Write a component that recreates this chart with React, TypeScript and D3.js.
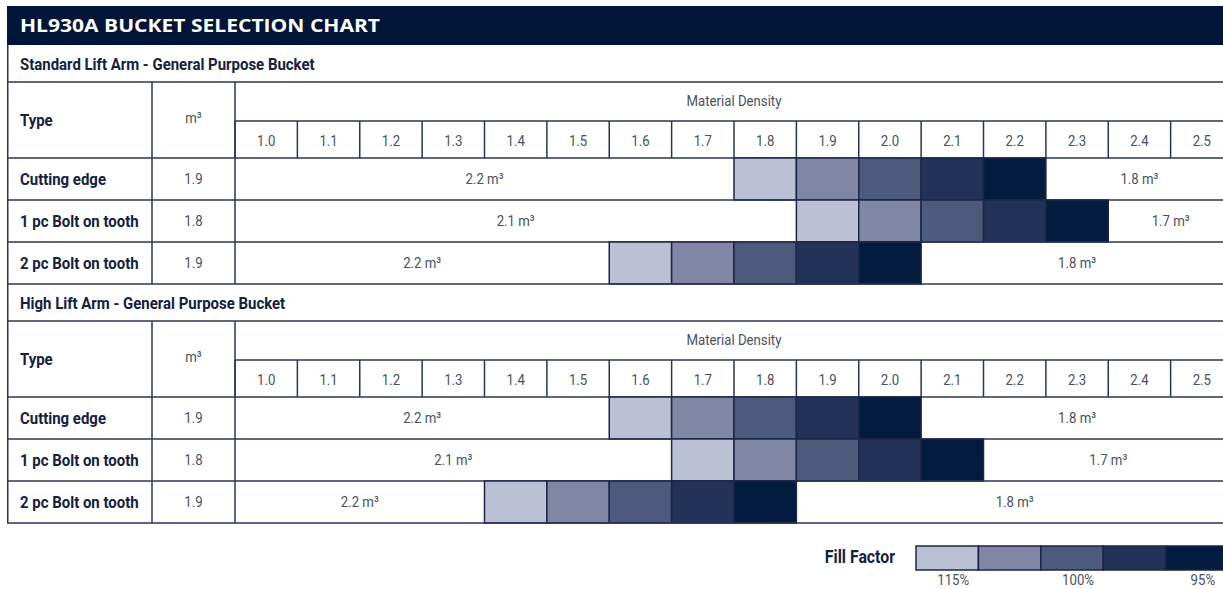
import React from 'react';
import * as d3 from 'd3';

// chart data
const chartTitle = 'HL930A BUCKET SELECTION CHART';
const densities = ['1.0', '1.1', '1.2', '1.3', '1.4', '1.5', '1.6', '1.7', '1.8', '1.9', '2.0', '2.1', '2.2', '2.3', '2.4', '2.5'];
const sectionTitles = ['Standard Lift Arm - General Purpose Bucket', 'High Lift Arm - General Purpose Bucket'];
const bucketTypes = ['Cutting edge', '1 pc Bolt on tooth', '2 pc Bolt on tooth'];
const bucketCapacity = [['1.9', '1.8', '1.9'], ['1.9', '1.8', '1.9']];
// density at which the 115% fill factor band starts
const fillStart = [['1.8', '1.9', '1.6'], ['1.6', '1.7', '1.4']];
const lightLabels = [['2.2 m³', '2.1 m³', '2.2 m³'], ['2.2 m³', '2.1 m³', '2.2 m³']];
const heavyLabels = [['1.8 m³', '1.7 m³', '1.8 m³'], ['1.8 m³', '1.7 m³', '1.8 m³']];
const fillLevels = ['115%', '', '100%', '', '95%'];
const fillColors = ['#bcc0d4', '#7f87a4', '#4c5a7c', '#223259', '#041b40'];

const NAVY = '#001538';
const LINE = '#2b3553';
const TXT = '#15213e';
const NUM = '#4a5060';
const NARROW = 'Roboto, "Liberation Sans", sans-serif';

const left = 7;
const colType = 152;
const colCap = 235;
const right = 1233;
const titleTop = 6;
const titleH = 39;
const secH = 37;
const headH = 76;
const rowH = 42;

const x = d3.scaleBand<string>().domain(densities).range([colCap, right]);
const legendX = d3.scaleBand<string>().domain(fillLevels.map((_, i) => String(i))).range([916, 1228]);

// condensed text: Roboto squeezed horizontally, like Arial Narrow
const NText = ({ x, y, bold, size = 14, anchor = 'start', children }: any) => (
  <text
    transform={`translate(${x},${y}) scale(0.88,1)`}
    textAnchor={anchor}
    fontFamily={NARROW}
    fontWeight={bold ? 700 : 400}
    fontSize={size}
    fill={bold ? TXT : NUM}
  >
    {children}
  </text>
);

const Section = ({ si, top }: { si: number; top: number }) => {
  const headTop = top + secH;
  const headMid = headTop + headH / 2 + 1;
  const rowsTop = headTop + headH;
  const bottom = rowsTop + rowH * bucketTypes.length;
  return (
    <g>
      <NText x={20} y={top + secH / 2 + 6} bold size={17}>{sectionTitles[si]}</NText>
      <line x1={left} x2={right} y1={headTop} y2={headTop} stroke={LINE} strokeWidth={1.5} />
      <line x1={colCap} x2={right} y1={headMid} y2={headMid} stroke={LINE} strokeWidth={1.5} />
      <NText x={20} y={headTop + headH / 2 + 6} bold size={17}>Type</NText>
      <NText x={(colType + colCap) / 2} y={headTop + headH / 2 + 3} anchor="middle" size={15}>m³</NText>
      <NText x={(colCap + right) / 2} y={headTop + 24} anchor="middle" size={15}>Material Density</NText>
      {densities.map((d) => (
        <g key={d}>
          <line x1={x(d)!} x2={x(d)!} y1={headMid} y2={rowsTop} stroke={LINE} strokeWidth={1.5} />
          <NText x={x(d)! + x.bandwidth() / 2} y={headMid + 25} anchor="middle" size={15}>{d}</NText>
        </g>
      ))}
      {bucketTypes.map((t, ri) => {
        const y0 = rowsTop + ri * rowH;
        const s = densities.indexOf(fillStart[si][ri]);
        const shaded = fillColors.map((c, k) => ({ d: densities[s + k], c }));
        const lightEnd = x(densities[s])!;
        const heavyStart = x(densities[s + fillColors.length])!;
        const ty = y0 + rowH / 2 + 5;
        return (
          <g key={t}>
            <line x1={left} x2={right} y1={y0} y2={y0} stroke={LINE} strokeWidth={1.5} />
            <NText x={20} y={ty + 1} bold size={17}>{t}</NText>
            <NText x={(colType + colCap) / 2} y={ty} anchor="middle" size={15}>{bucketCapacity[si][ri]}</NText>
            <NText x={(colCap + lightEnd) / 2} y={ty} anchor="middle" size={15}>{lightLabels[si][ri]}</NText>
            <NText x={(heavyStart + right) / 2} y={ty} anchor="middle" size={15}>{heavyLabels[si][ri]}</NText>
            {shaded.map((c) => (
              <rect key={c.d} x={x(c.d)!} y={y0} width={x.bandwidth()} height={rowH} fill={c.c} stroke="#1c2646" strokeWidth={1.5} />
            ))}
          </g>
        );
      })}
      <line x1={left} x2={right} y1={bottom} y2={bottom} stroke={LINE} strokeWidth={1.5} />
      <line x1={colType} x2={colType} y1={headTop} y2={bottom} stroke={LINE} strokeWidth={1.5} />
      <line x1={colCap} x2={colCap} y1={headTop} y2={bottom} stroke={LINE} strokeWidth={1.5} />
    </g>
  );
};

const App = () => {
  const secBlock = secH + headH + rowH * bucketTypes.length;
  const s1 = titleTop + titleH;
  const s2 = s1 + secBlock;
  const tableBottom = s2 + secBlock;
  return (
    <svg width={1223} height={589} style={{ position: 'absolute', left: 0, top: 0, background: '#fff' }}>
      <rect x={left} y={titleTop} width={right - left} height={titleH} fill={NAVY} />
      <text x={20} y={titleTop + 26} fontFamily='"Open Sans", "Noto Sans", sans-serif' fontWeight={700} fontSize={18}
        textLength={360} lengthAdjust="spacingAndGlyphs" fill="#fff">{chartTitle}</text>
      <Section si={0} top={s1} />
      <Section si={1} top={s2} />
      <line x1={left + 0.75} x2={left + 0.75} y1={s1} y2={tableBottom} stroke={LINE} strokeWidth={1.5} />
      <NText x={895} y={563} anchor="end" bold size={18}>Fill Factor</NText>
      {fillColors.map((c, i) => (
        <rect key={c} x={legendX(String(i))!} y={546} width={legendX.bandwidth()} height={24} fill={c} stroke="#1c2646" strokeWidth={1.5} />
      ))}
      {fillLevels.map((l, i) => (
        <NText key={i} x={legendX(String(i))! + legendX.bandwidth() / 2 + 6} y={585} anchor="middle" size={15}>{l}</NText>
      ))}
    </svg>
  );
};

export default App;
